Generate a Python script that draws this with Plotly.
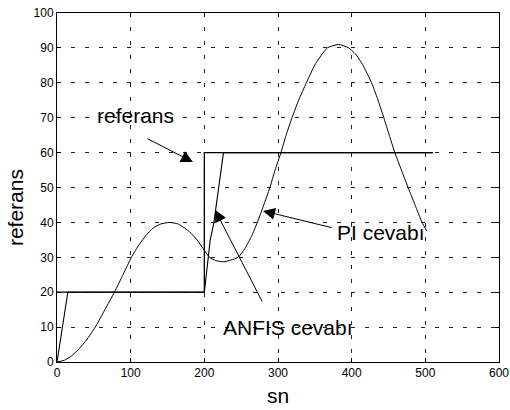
import plotly.graph_objects as go

# reference step
ref_x = [0, 200, 200, 510]
ref_y = [20, 20, 60, 60]

# ANFIS response
anfis_x = [0, 14.7, 200, 204, 208, 213, 219, 226, 510]
anfis_y = [0, 20, 20, 28, 35, 40, 50, 60, 60]

# PI response
pi_x = [0, 10, 20, 30, 40, 52, 65, 78, 90, 101, 112, 121, 130, 140, 153, 165, 180, 190,
        200, 207, 215, 226, 236, 246, 255, 264, 272, 280, 289, 296, 304, 311, 319, 328,
        338.5, 351, 367, 382, 396, 405, 415, 427, 435, 443.6, 451, 458.6, 467.5, 476.6,
        486, 495.6, 502]
pi_y = [0, 0.5, 1.8, 3.8, 6.3, 10, 15, 20, 25.2, 30, 33.8, 36.3, 38.3, 39.5, 40, 39.5, 37.3, 35,
        32, 30, 29.1, 28.7, 29.2, 30, 32.5, 36, 40, 44.6, 50, 55, 60, 65, 70, 75,
        80, 85.5, 90, 91, 90, 88.3, 85.2, 80, 75.5, 70, 65, 60, 55, 50,
        45, 40, 37.5]

x_ticks = [0, 100, 200, 300, 400, 500, 600]
y_ticks = [0, 10, 20, 30, 40, 50, 60, 70, 80, 90, 100]

FONT = "Arial, Liberation Sans, Helvetica, sans-serif"

fig = go.Figure()
fig.add_trace(go.Scatter(x=ref_x, y=ref_y, mode="lines",
                         line=dict(color="black", width=1.3), showlegend=False))
fig.add_trace(go.Scatter(x=anfis_x, y=anfis_y, mode="lines",
                         line=dict(color="black", width=1.1), showlegend=False))
fig.add_trace(go.Scatter(x=pi_x, y=pi_y, mode="lines",
                         line=dict(color="black", width=1, shape="spline", smoothing=0.5),
                         showlegend=False))

axis_common = dict(
    showgrid=True, gridcolor="#222", griddash="4px,10px", gridwidth=1,
    showline=True, linecolor="black", linewidth=1, mirror="ticks",
    ticks="inside", ticklen=4, tickcolor="black",
    tickfont=dict(family=FONT, size=12, color="black"),
    zeroline=False, automargin=False,
)

fig.update_xaxes(range=[0, 600], tickvals=x_ticks, **axis_common)
fig.update_yaxes(range=[0, 100], tickvals=y_ticks, **axis_common)

ann_font = dict(family=FONT, size=21, color="black")

def arrow(tip, tail):
    return dict(x=tip[0], y=tip[1], ax=tail[0], ay=tail[1], xref="x", yref="y",
                axref="x", ayref="y", text="", showarrow=True, arrowhead=2,
                arrowsize=2.4, arrowwidth=1, arrowcolor="black", standoff=0, startstandoff=0)

annotations = [
    arrow((184.6, 57.3), (120.8, 64.2)),
    arrow((214.5, 43.6), (279.6, 16.9)),
    arrow((279.6, 43.3), (374.7, 38.4)),
    dict(x=107, y=70.5, xref="x", yref="y", text="referans", showarrow=False, font=ann_font),
    dict(x=313.6, y=10.0, xref="x", yref="y", text="ANFIS cevabı", showarrow=False, font=ann_font),
    dict(x=439.8, y=37.2, xref="x", yref="y", text="PI cevabı", showarrow=False, font=ann_font),
    dict(x=0.5, y=-0.0946, xref="paper", yref="paper", text="sn", showarrow=False,
         font=ann_font, yanchor="middle"),
    dict(x=-0.095, y=0.441, xref="paper", yref="paper", text="referans", showarrow=False,
         font=ann_font, textangle=-90, xanchor="center", yanchor="middle"),
]

fig.update_layout(
    width=510, height=410,
    margin=dict(l=57, r=11, t=13, b=48, autoexpand=False),
    paper_bgcolor="white", plot_bgcolor="white",
    annotations=annotations,
    font=dict(family=FONT),
)

fig.write_html(
    "out.html",
    config={"responsive": False, "displayModeBar": False},
    post_script="document.body.style.margin='0';document.body.style.overflow='hidden';",
)
